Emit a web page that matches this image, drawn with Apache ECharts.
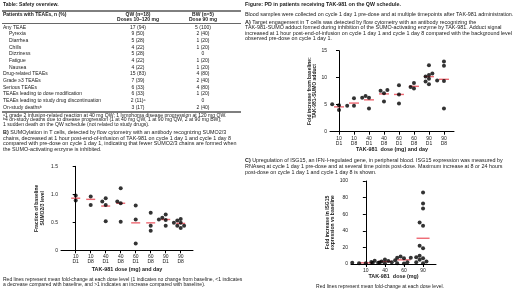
<!DOCTYPE html>
<html>
<head>
<meta charset="utf-8">
<script src="https://cdn.jsdelivr.net/npm/echarts@6/dist/echarts.min.js"></script>
<style>
  html, body { margin: 0; padding: 0; background: #fff; }
  #main { width: 520px; height: 292px; }
</style>
</head>
<body>
<div id="main"></div>
<script>
// ---- table ----
var rowLabels = ['Any TEAE', 'Pyrexia', 'Diarrhea', 'Chills', 'Dizziness', 'Fatigue', 'Nausea',
  'Drug-related TEAEs', 'Grade \u22653 TEAEs', 'Serious TEAEs', 'TEAEs leading to dose modification',
  'TEAEs leading to study drug discontinuation', 'On-study deaths\u1d47'];
var rowSub = [0, 1, 1, 1, 1, 1, 1, 0, 0, 0, 0, 0, 0];
var qwVals = ['17 (94)', '9 (50)', '5 (28)', '4 (22)', '5 (28)', '4 (22)', '4 (22)', '15 (83)', '7 (39)',
  '6 (33)', '6 (33)', '2 (11)\u1d43', '3 (17)'];
var bwVals = ['5 (100)', '2 (40)', '1 (20)', '1 (20)', '0', '1 (20)', '1 (20)', '4 (80)', '2 (40)',
  '4 (80)', '1 (20)', '0', '2 (40)'];

// ---- panel A: TAK-981-SUMO adduct, fold increase ----
var dayCats = ['10\nD1', '10\nD8', '40\nD1', '40\nD8', '60\nD1', '60\nD8', '90\nD1', '90\nD8'];
var adduct = [
  [4.9, 4.0, 5.1],
  [4.8, 6.2, 4.8],
  [6.3, 6.6, 6.3, 4.3],
  [7.1, 7.7, 7.6, 5.6],
  [8.6, 6.9, 5.2],
  [8.0, 9.0, 8.3],
  [8.8, 10.5, 12.3, 9.8, 10.2, 10.8, 9.3],
  [9.4, 13.0, 12.2, 9.5, 4.3]
];
var adductMean = [4.6, 5.3, 5.9, 7.0, 6.9, 8.4, 10.2, 9.7];

// ---- panel B: SUMO2/3 fraction of baseline ----
var sumo = [
  [0.98, 0.89],
  [0.96, 0.81],
  [0.93, 0.87, 0.81, 0.52],
  [1.11, 0.87, 0.84, 0.51],
  [0.80, 0.55, 0.12],
  [0.67, 0.44, 0.35],
  [0.64, 0.58, 0.55, 0.54, 0.44],
  [0.56, 0.53, 0.49, 0.49, 0.44, 0.44, 0.40]
];
var sumoMean = [0.93, 0.91, 0.79, 0.84, 0.49, 0.49, 0.55, 0.48];

// ---- panel C: ISG15 fold increase ----
var doseCats = ['10', '40', '60', '90'];
var isg = [
  [1.2, 2.0, 1.5, 0.8, 1.8, 1.0],
  [5.5, 4.0, 2.5, 3.0, 1.5, 2.0, 4.5, 1.0, 3.5],
  [9.0, 7.5, 7.5, 7.0, 2.0, 1.0, 0.5],
  [86, 73, 67, 50, 46, 22, 19, 10, 8, 7, 5, 3, 2, 1]
];
var isgMean = [1.4, 3.0, 5.0, 31];

var FONT = "'Liberation Sans', Arial, sans-serif";
var INK = '#1a1a1a';
var RED = '#e8424f';

// simple beeswarm: spread points sideways when they would overlap (pxX/pxY = pixels per unit)
function swarm(groups, pxX, pxY, dot) {
  var out = [];
  groups.forEach(function (vals, c) {
    var order = vals.map(function (v, i) { return i; }).sort(function (a, b) { return vals[a] - vals[b]; });
    var placed = [];
    order.forEach(function (i) {
      var v = vals[i];
      for (var k = 0; k < 40; k++) {
        var off = k === 0 ? 0 : (k % 2 ? -1 : 1) * Math.ceil(k / 2) * dot * 0.85;
        var hit = placed.some(function (p) {
          var dx = p[0] - off, dy = (p[1] - v) * pxY;
          return dx * dx + dy * dy < dot * dot * 0.8;
        });
        if (!hit) { placed.push([off, v]); out.push([c + off / pxX, v]); break; }
      }
    });
  });
  return out;
}

function means(arr) {
  return arr.map(function (v, i) { return [i, v]; });
}

function txt(x, y, s, o) {
  o = o || {};
  return {
    type: 'text', x: x, y: y, silent: true,
    style: {
      text: s, fontSize: o.size || 5, fontFamily: FONT, fontWeight: o.bold ? 'bold' : 'normal',
      fill: INK, align: o.align || 'left', verticalAlign: 'middle',
      textAlign: o.align || 'left', textVerticalAlign: 'middle',
      rich: { b: { fontWeight: 'bold', fontSize: o.size || 5, fontFamily: FONT, fill: INK } }
    }
  };
}
function hline(x1, x2, y, w) {
  return { type: 'line', silent: true, shape: { x1: x1, y1: y, x2: x2, y2: y }, style: { stroke: '#000', lineWidth: w } };
}

var CAP = 5.4;
var graphics = [];
graphics.push(txt(3, 4.5, 'Table: Safety overview.', { bold: true, size: 5.1 }));
graphics.push(hline(2, 241, 11, 1));
graphics.push(txt(3, 14.3, 'Patients with TEAEs, n (%)', { bold: true }));
graphics.push(txt(138, 14.3, 'QW (n=18)', { bold: true, align: 'center' }));
graphics.push(txt(138, 20, 'Doses 10\u2013120 mg', { bold: true, align: 'center' }));
graphics.push(txt(203, 14.3, 'BW (n=5)', { bold: true, align: 'center' }));
graphics.push(txt(203, 20, 'Dose 90 mg', { bold: true, align: 'center' }));
graphics.push(hline(2, 241, 23.5, 0.6));
rowLabels.forEach(function (r, i) {
  var y = 27.4 + i * 6.65;
  graphics.push(txt(rowSub[i] ? 9 : 3, y, r));
  graphics.push(txt(138, y, qwVals[i], { align: 'center' }));
  graphics.push(txt(203, y, bwVals[i], { align: 'center' }));
});
graphics.push(hline(2, 241, 112, 1.2));
graphics.push(txt(3, 115.5, '\u1d431 grade 2 infusion-related reaction at 40 mg QW; 1 lymphoma disease progression at 120 mg QW.', { size: 5.1 }));
graphics.push(txt(3, 119.9, '\u1d474 on-study deaths due to disease progression (1 at 40 mg QW, 1 at 90 mg QW, 2 at 90 mg BW);', { size: 5.1 }));
graphics.push(txt(3, 124.3, '1 sudden death on the QW schedule (not related to study drugs).', { size: 5.1 }));

graphics.push(txt(3, 133, '{b|B)} SUMOylation in T cells, detected by flow cytometry with an antibody recognizing SUMO2/3', { size: CAP }));
graphics.push(txt(3, 138.5, 'chains, decreased at 1 hour post-end-of-infusion of TAK-981 on cycle 1 day 1 and cycle 1 day 8', { size: CAP }));
graphics.push(txt(3, 144, 'compared with pre-dose on cycle 1 day 1, indicating that fewer SUMO2/3 chains are formed when', { size: CAP }));
graphics.push(txt(3, 149.5, 'the SUMO-activating enzyme is inhibited.', { size: CAP }));
graphics.push(txt(3, 279.5, 'Red lines represent mean fold-change at each dose level (1 indicates no change from baseline, <1 indicates', { size: 5 }));
graphics.push(txt(3, 285, 'a decrease compared with baseline, and >1 indicates an increase compared with baseline).', { size: 5 }));

graphics.push(txt(245, 4.5, 'Figure: PD in patients receiving TAK-981 on the QW schedule.', { bold: true, size: 5.3 }));
graphics.push(txt(245, 14.5, 'Blood samples were collected on cycle 1 day 1 pre-dose and at multiple timepoints after TAK-981 administration.', { size: CAP }));
graphics.push(txt(245, 22.3, '{b|A)} Target engagement in T cells was detected by flow cytometry with an antibody recognizing the', { size: CAP }));
graphics.push(txt(245, 27.7, 'TAK-981-SUMO adduct formed during inhibition of the SUMO-activating enzyme by TAK-981. Adduct signal', { size: CAP }));
graphics.push(txt(245, 33.1, 'increased at 1 hour post-end-of-infusion on cycle 1 day 1 and cycle 1 day 8 compared with the background level', { size: CAP }));
graphics.push(txt(245, 38.5, 'observed pre-dose on cycle 1 day 1.', { size: CAP }));

graphics.push(txt(245, 161, '{b|C)} Upregulation of ISG15, an IFN-I-regulated gene, in peripheral blood. ISG15 expression was measured by', { size: CAP }));
graphics.push(txt(245, 166.8, 'RNAseq at cycle 1 day 1 pre-dose and at several time points post-dose. Maximum increase at 8 or 24 hours', { size: CAP }));
graphics.push(txt(245, 172.6, 'post-dose on cycle 1 day 1 and cycle 1 day 8 is shown.', { size: CAP }));
graphics.push(txt(380, 286.7, 'Red lines represent mean fold-change at each dose level.', { align: 'center', size: 5 }));

function xAxisOf(grid, cats, min, max, name, gap) {
  var vals = cats.map(function (c, i) { return i; });
  return {
    type: 'value', gridIndex: grid, min: min, max: max,
    name: name, nameLocation: 'middle', nameGap: gap,
    nameTextStyle: { fontSize: 5.4, fontWeight: 'bold', fontFamily: FONT, color: INK },
    axisLine: { lineStyle: { color: '#000', width: 1 } },
    axisTick: { customValues: vals, length: 3, lineStyle: { color: '#000', width: 1 } },
    axisLabel: {
      customValues: vals, fontSize: 5, lineHeight: 5, margin: 4, fontFamily: FONT, color: INK,
      formatter: function (v) { return cats[Math.round(v)]; }
    },
    splitLine: { show: false }
  };
}
function yAxisOf(grid, max, interval, name, gap, fmt) {
  return {
    type: 'value', gridIndex: grid, min: 0, max: max, interval: interval,
    name: name, nameLocation: 'middle', nameGap: gap, nameRotate: 90,
    nameTextStyle: { fontSize: 5, fontWeight: 'bold', fontFamily: FONT, color: INK, lineHeight: 5.5 },
    axisLine: { show: true, lineStyle: { color: '#000', width: 1 } },
    axisTick: { show: true, length: 3, lineStyle: { color: '#000', width: 1 } },
    axisLabel: { fontSize: 5, margin: 3, fontFamily: FONT, color: INK, formatter: fmt },
    splitLine: { show: false }
  };
}

function dots(idx, data) {
  return {
    type: 'scatter', xAxisIndex: idx, yAxisIndex: idx, data: data, z: 3,
    symbol: 'circle', symbolSize: 4, itemStyle: { color: '#000' }, silent: true
  };
}
function meanBars(idx, data, w) {
  return {
    type: 'scatter', xAxisIndex: idx, yAxisIndex: idx, data: data, z: 2,
    symbol: 'rect', symbolSize: [w, 1.4], itemStyle: { color: RED }, silent: true
  };
}

var myChart = echarts.init(document.getElementById('main'), null, { renderer: 'canvas' });

var option = {
  animation: false,
  backgroundColor: '#fff',
  textStyle: { fontFamily: FONT },
  grid: [
    { left: 330, top: 50.7, width: 124, height: 81, outerBoundsMode: 'none' },
    { left: 61, top: 166.3, width: 132, height: 84, outerBoundsMode: 'none' },
    { left: 351, top: 181, width: 85, height: 83, outerBoundsMode: 'none' }
  ],
  xAxis: [
    xAxisOf(0, dayCats, -0.6, 7.67, 'TAK-981  dose (mg) and day', 13.5),
    xAxisOf(1, dayCats, -0.98, 7.82, 'TAK-981 dose (mg) and day', 17),
    xAxisOf(2, doseCats, -0.78, 3.68, 'TAK-981  dose (mg)', 10)
  ],
  yAxis: [
    yAxisOf(0, 15, 5, 'Fold increase from baseline:\nTAK-981-SUMO adduct', 12),
    yAxisOf(1, 1.5, 0.5, 'Fraction of baseline\nSUMO2/3 level', 16, function (v) { return v === 0 ? '0' : v.toFixed(1); }),
    yAxisOf(2, 100, 20, 'Fold increase in ISG15\nexpression vs baseline', 11)
  ],
  series: [
    meanBars(0, means(adductMean), 10),
    dots(0, swarm(adduct, 15, 5.4, 4)),
    meanBars(1, means(sumoMean), 9),
    dots(1, swarm(sumo, 15, 56, 4)),
    meanBars(2, means(isgMean), 13),
    dots(2, swarm(isg, 19, 0.83, 4))
  ],
  graphic: graphics
};

myChart.setOption(option);
</script>
</body>
</html>
